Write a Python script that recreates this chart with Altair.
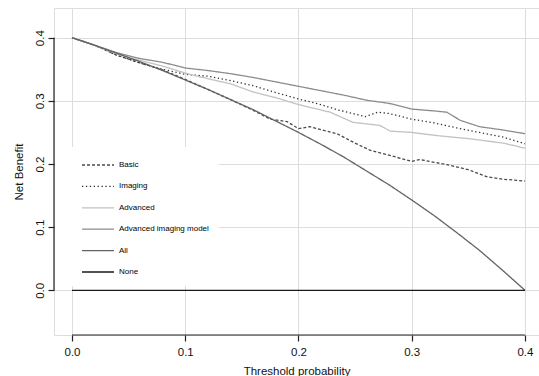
import altair as alt
import pandas as pd

# ---- data ----
series_names = ["Basic", "Imaging", "Advanced", "Advanced imaging model", "All", "None"]
series_colors = ["#4a4a4a", "#2e2e2e", "#c2c2c2", "#8c8c8c", "#636363", "#1a1a1a"]
series_dashes = [[3, 2], [1.3, 2.6], [1, 0], [1, 0], [1, 0], [1, 0]]

t_basic = [0.0, 0.02, 0.04, 0.06, 0.08, 0.10, 0.12, 0.14, 0.16, 0.175, 0.19, 0.20, 0.21,
           0.234, 0.25, 0.263, 0.28, 0.30, 0.307, 0.331, 0.35, 0.366, 0.38, 0.40]
nb_basic = [0.400, 0.388, 0.372, 0.360, 0.349, 0.334, 0.318, 0.302, 0.285, 0.271, 0.267, 0.256, 0.259,
            0.248, 0.233, 0.222, 0.214, 0.204, 0.207, 0.199, 0.191, 0.180, 0.176, 0.173]

t_imaging = [0.0, 0.02, 0.04, 0.06, 0.08, 0.10, 0.12, 0.14, 0.16, 0.18, 0.20, 0.22, 0.234,
             0.259, 0.27, 0.28, 0.30, 0.32, 0.34, 0.36, 0.38, 0.40]
nb_imaging = [0.400, 0.388, 0.372, 0.360, 0.350, 0.342, 0.339, 0.332, 0.324, 0.313, 0.303, 0.294, 0.286,
              0.275, 0.282, 0.280, 0.271, 0.265, 0.257, 0.250, 0.243, 0.232]

t_advanced = [0.0, 0.02, 0.04, 0.06, 0.08, 0.10, 0.12, 0.14, 0.16, 0.18, 0.20, 0.228, 0.248,
              0.272, 0.281, 0.30, 0.322, 0.351, 0.381, 0.40]
nb_advanced = [0.400, 0.388, 0.374, 0.364, 0.355, 0.344, 0.335, 0.327, 0.314, 0.305, 0.294, 0.282, 0.266,
               0.261, 0.252, 0.250, 0.245, 0.240, 0.233, 0.225]

t_aim = [0.0, 0.02, 0.04, 0.06, 0.08, 0.10, 0.12, 0.14, 0.16, 0.18, 0.20, 0.22, 0.24, 0.26,
         0.28, 0.30, 0.32, 0.331, 0.343, 0.36, 0.38, 0.40]
nb_aim = [0.400, 0.388, 0.376, 0.367, 0.361, 0.352, 0.348, 0.343, 0.337, 0.330, 0.323, 0.316, 0.309, 0.301,
          0.296, 0.287, 0.284, 0.282, 0.269, 0.259, 0.254, 0.248]

t_all = [0.0, 0.02, 0.04, 0.06, 0.08, 0.10, 0.12, 0.14, 0.16, 0.18, 0.20, 0.22, 0.24, 0.26,
         0.28, 0.30, 0.32, 0.34, 0.36, 0.38, 0.40]
nb_all = [0.400, 0.388, 0.375, 0.362, 0.348, 0.333, 0.318, 0.302, 0.286, 0.268, 0.250, 0.231, 0.211,
          0.189, 0.167, 0.143, 0.118, 0.091, 0.063, 0.032, 0.000]

t_none = [0.0, 0.40]
nb_none = [0.0, 0.0]

x_ticks = [0.0, 0.1, 0.2, 0.3, 0.4]
y_ticks = [0.0, 0.1, 0.2, 0.3, 0.4]

rows = []
for name, ts, vs in [("Basic", t_basic, nb_basic), ("Imaging", t_imaging, nb_imaging),
                     ("Advanced", t_advanced, nb_advanced),
                     ("Advanced imaging model", t_aim, nb_aim),
                     ("All", t_all, nb_all), ("None", t_none, nb_none)]:
    for t, v in zip(ts, vs):
        rows.append({"series": name, "t": t, "nb": v})
df = pd.DataFrame(rows)

axis_df = pd.DataFrame({"x0": [x_ticks[0]], "x1": [x_ticks[-1]],
                        "y0": [y_ticks[0]], "y1": [y_ticks[-1]]})

PLOT_W = 485
PLOT_H = 327
FONT = "Liberation Sans"

x_scale = alt.Scale(domain=[-0.0159, 0.4124], nice=False, zero=False)
y_scale = alt.Scale(domain=[-0.0708, 0.447], nice=False, zero=False)

x_axis = alt.Axis(values=x_ticks, format=".1f", title="Threshold probability",
                  domain=False, grid=True, gridColor="#dddddd", gridWidth=1,
                  tickSize=6, tickColor="#222222", tickWidth=1.2,
                  labelFontSize=11.5, labelColor="#111111", labelPadding=5, labelFont=FONT,
                  titleFont=FONT, titleFontSize=11.5, titleFontWeight="normal",
                  titleColor="#111111", titlePadding=8)
y_axis = alt.Axis(values=y_ticks, format=".1f", title="Net Benefit",
                  domain=False, grid=True, gridColor="#dddddd", gridWidth=1,
                  tickSize=6, tickColor="#222222", tickWidth=1.2,
                  labelFontSize=11.5, labelColor="#111111", labelPadding=3, labelFont=FONT,
                  labelAngle=-90, labelAlign="center", labelBaseline="bottom",
                  titleFont=FONT, titleFontSize=11.5, titleFontWeight="normal",
                  titleColor="#111111", titlePadding=10)

lines = alt.Chart(df).mark_line(strokeWidth=1.3).encode(
    x=alt.X("t:Q", scale=x_scale, axis=x_axis),
    y=alt.Y("nb:Q", scale=y_scale, axis=y_axis),
    color=alt.Color("series:N", scale=alt.Scale(domain=series_names, range=series_colors),
                    sort=series_names,
                    legend=alt.Legend(title=None, orient="none", legendX=1, legendY=139,
                                      symbolType="M1.125,0L5.125,0", symbolSize=256,
                                      symbolStrokeWidth=1.3,
                                      labelFont=FONT, labelFontSize=8, labelColor="#000000",
                                      labelOffset=37, rowPadding=8.4, padding=9,
                                      fillColor="white", strokeColor="white")),
    strokeDash=alt.StrokeDash("series:N", scale=alt.Scale(domain=series_names, range=series_dashes),
                              sort=series_names, legend=None),
)

x_line = alt.Chart(axis_df).mark_rule(color="#222222", strokeWidth=1.2).encode(
    x=alt.X("x0:Q", scale=x_scale, axis=x_axis),
    x2="x1:Q",
    y=alt.value(PLOT_H),
)
y_line = alt.Chart(axis_df).mark_rule(color="#222222", strokeWidth=1.2).encode(
    y=alt.Y("y0:Q", scale=y_scale, axis=y_axis),
    y2="y1:Q",
    x=alt.value(0),
)

chart = alt.layer(lines, x_line, y_line).properties(
    width=PLOT_W, height=PLOT_H,
    autosize=alt.AutoSizeParams(type="none"),
    padding={"left": 54, "top": 8, "right": 0, "bottom": 41},
).configure_view(strokeWidth=0).configure(background="white")

chart.save("out.html", embed_options={"renderer": "svg", "actions": False})
